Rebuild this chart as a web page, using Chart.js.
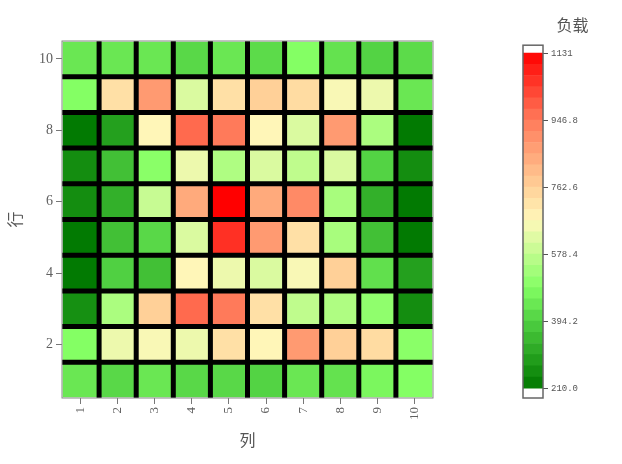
<!DOCTYPE html>
<html><head><meta charset="utf-8">
<script src="https://cdn.jsdelivr.net/npm/chart.js@4.4.1/dist/chart.umd.min.js"></script>
<style>
html,body{margin:0;padding:0;background:#fff;}
#wrap{position:relative;width:622px;height:464px;overflow:hidden;}
canvas{position:absolute;top:0;}
</style>
</head><body>
<div id="wrap">
<canvas id="main" width="444" height="464" style="left:0;width:444px;height:464px"></canvas>
<canvas id="cbar" width="178" height="464" style="left:444px;width:178px;height:464px"></canvas>
</div>
<script>
// ---- data ----
const columns = ['1','2','3','4','5','6','7','8','9','10'];
const yTicks = [2, 4, 6, 8, 10];
const row1  = [440, 410, 440, 410, 410, 400, 440, 430, 470, 486];
const row2  = [486, 643, 661, 643, 726, 675, 878, 763, 735, 495];
const row3  = [260, 545, 763, 971, 947, 726, 574, 550, 505, 255];
const row4  = [215, 394, 361, 675, 643, 615, 661, 763, 425, 293];
const row5  = [215, 361, 410, 615, 1058, 878, 726, 540, 361, 215];
const row6  = [255, 327, 587, 845, 1131, 845, 912, 540, 327, 215];
const row7  = [255, 361, 495, 643, 550, 615, 574, 615, 400, 255];
const row8  = [215, 293, 675, 971, 947, 675, 615, 878, 545, 215];
const row9  = [486, 726, 878, 615, 726, 763, 735, 661, 643, 440];
const row10 = [440, 440, 440, 410, 440, 415, 486, 430, 400, 415];
const rowValues = [row1, row2, row3, row4, row5, row6, row7, row8, row9, row10];
const boundaries = [1.5, 2.5, 3.5, 4.5, 5.5, 6.5, 7.5, 8.5, 9.5];
const legendMin = 210, legendMax = 1131;
const legendTicks = [210, 394.2, 578.4, 762.6, 946.8, 1131];
const legendTickLabels = ['210.0', '394.2', '578.4', '762.6', '946.8', '1131'];
const legendBands = 30;

// ---- colour map ----
const cmapStops = [[0,'#007800'],[0.2,'#50D042'],[0.3,'#84FF64'],[0.5,'#FFF8BA'],[0.6,'#FFD098'],[0.8,'#FF7A5A'],[1,'#FF0000']];
function hex(h){return [parseInt(h.substr(1,2),16),parseInt(h.substr(3,2),16),parseInt(h.substr(5,2),16)];}
function cmap(v){
  let t = (v - legendMin) / (legendMax - legendMin);
  t = Math.max(0, Math.min(1, t));
  for (let i = 1; i < cmapStops.length; i++) {
    if (t <= cmapStops[i][0]) {
      const [t0,c0] = cmapStops[i-1], [t1,c1] = cmapStops[i];
      const f = (t - t0) / (t1 - t0);
      const a = hex(c0), b = hex(c1);
      return 'rgb(' + a.map((x,k)=>Math.round(x + (b[k]-x)*f)).join(',') + ')';
    }
  }
  return cmapStops[cmapStops.length-1][1];
}

const serif = '"Liberation Serif", "DejaVu Serif", serif';
const cjk = '"Noto Sans CJK SC", sans-serif';
const grey = '#606060';

const frame = {
  id: 'frame',
  afterDatasetsDraw(chart, args, opts) {
    const a = chart.chartArea, ctx = chart.ctx;
    ctx.save();
    ctx.strokeStyle = opts.color; ctx.lineWidth = opts.width;
    ctx.strokeRect(a.left, a.top, a.right - a.left, a.bottom - a.top);
    ctx.restore();
  }
};

// ---- main heatmap ----
const cellSets = rowValues.map((vals, i) => {
  const r = i + 1;
  return {
    type: 'bar',
    data: vals.map(() => [r - 0.5, r + 0.5]),
    backgroundColor: vals.map(cmap),
    borderColor: 'rgba(255,255,255,0.55)',
    borderWidth: 1,
    borderSkipped: false,
    grouped: false,
    barPercentage: 1,
    categoryPercentage: 1,
    order: 1
  };
});
const lineStyle = { type: 'line', xAxisID: 'xg', yAxisID: 'y', borderColor: '#000', borderWidth: 5,
  pointRadius: 0, borderCapStyle: 'round', fill: false, order: 0 };
const vLines = boundaries.map(b => Object.assign({}, lineStyle, { data: [{x: b, y: 0.5}, {x: b, y: 10.5}] }));
const hLines = boundaries.map(b => Object.assign({}, lineStyle, { data: [{x: 0.5, y: b}, {x: 10.5, y: b}] }));

new Chart(document.getElementById('main'), {
  type: 'bar',
  data: { labels: columns, datasets: cellSets.concat(vLines, hLines) },
  options: {
    responsive: false, animation: false, devicePixelRatio: 1,
    layout: { padding: { top: 41, right: 11, left: 0, bottom: 0 } },
    plugins: { legend: { display: false }, tooltip: { enabled: false }, frame: { color: '#888', width: 1 } },
    scales: {
      x: {
        type: 'category', offset: true,
        grid: { offset: false, drawOnChartArea: false, drawTicks: true, tickLength: 6, color: '#777' },
        border: { display: false },
        ticks: { minRotation: 90, maxRotation: 90, autoSkip: false, padding: 3, color: grey, font: { family: serif, size: 13 } },
        title: { display: true, text: '列', color: '#555', font: { family: cjk, size: 16 }, padding: { top: 0, bottom: 14 } },
        afterFit: s => { s.height = 66; }
      },
      xg: { type: 'linear', min: 0.5, max: 10.5, offset: false, grid: { offset: false }, display: false },
      y: {
        type: 'linear', min: 0.5, max: 10.5,
        afterBuildTicks: s => { s.ticks = yTicks.map(v => ({ value: v })); },
        grid: { drawOnChartArea: false, drawTicks: true, tickLength: 6, color: '#777' },
        border: { display: false },
        ticks: { padding: 3, color: grey, font: { family: serif, size: 14 } },
        title: { display: true, text: '行', color: '#555', font: { family: cjk, size: 16 }, padding: { top: 5, bottom: 0 } },
        afterFit: s => { s.width = 62; }
      }
    }
  },
  plugins: [frame]
});

// ---- colour bar legend ----
const bandStep = (legendMax - legendMin) / legendBands;
const bandSets = [];
for (let i = 0; i < legendBands; i++) {
  const lo = legendMin + i * bandStep, hi = lo + bandStep;
  bandSets.push({ data: [[lo, hi]], backgroundColor: cmap((lo + hi) / 2), borderWidth: 0,
    grouped: false, barPercentage: 1, categoryPercentage: 1 });
}
new Chart(document.getElementById('cbar'), {
  type: 'bar',
  data: { labels: [''], datasets: bandSets },
  options: {
    responsive: false, animation: false, devicePixelRatio: 1,
    layout: { padding: { top: 0, left: 79, right: 0, bottom: 66 } },
    plugins: {
      legend: { display: false }, tooltip: { enabled: false },
      title: { display: true, text: '负载', color: '#555', font: { family: cjk, size: 16, weight: 'normal' }, padding: { top: 15, bottom: 11 } },
      frame: { color: '#666', width: 1.5 }
    },
    scales: {
      x: { display: false },
      y: {
        position: 'right', min: 183, max: 1153,
        afterBuildTicks: s => { s.ticks = legendTicks.map(v => ({ value: v })); },
        grid: { drawOnChartArea: false, drawTicks: true, tickLength: 5, color: '#555' },
        border: { display: false },
        ticks: { padding: 3, color: '#555', font: { family: '"Liberation Mono", monospace', size: 9 },
          callback: (v, i) => legendTickLabels[i] },
        afterFit: s => { s.width = 79; }
      }
    }
  },
  plugins: [frame]
});
</script>
</body></html>
